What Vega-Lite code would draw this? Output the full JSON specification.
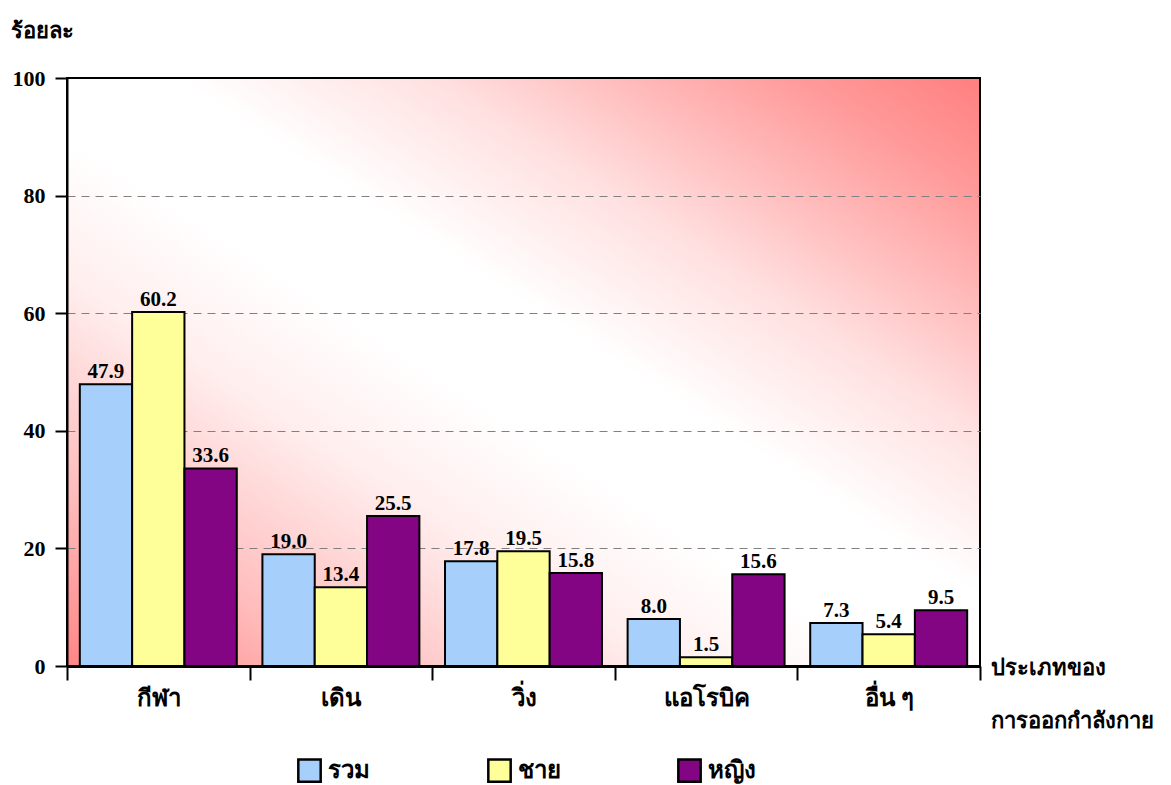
{
  "$schema": "https://vega.github.io/schema/vega-lite/v6.json",
  "width": 913,
  "height": 588,
  "autosize": {"type": "none"},
  "padding": {"left": 67, "top": 78, "right": 191, "bottom": 119},
  "background": "white",
  "config": {
    "font": "Liberation Serif",
    "view": {
      "stroke": "black",
      "strokeWidth": 2,
      "fill": {
        "gradient": "linear",
        "x1": 0, "y1": 1, "x2": 1, "y2": 0,
        "stops": [
          {"offset": 0, "color": "#ff8585"},
          {"offset": 0.15, "color": "#ffbcbc"},
          {"offset": 0.33, "color": "#ffeeee"},
          {"offset": 0.45, "color": "#ffffff"},
          {"offset": 0.56, "color": "#ffffff"},
          {"offset": 0.7, "color": "#ffe0e0"},
          {"offset": 0.8, "color": "#ffbcbc"},
          {"offset": 0.9, "color": "#ff9a9a"},
          {"offset": 1, "color": "#ff7f7f"}
        ]
      }
    }
  },
  "data": {
    "values": [
      {"category": "กีฬา", "group": "รวม", "value": 47.9},
      {"category": "กีฬา", "group": "ชาย", "value": 60.2},
      {"category": "กีฬา", "group": "หญิง", "value": 33.6},
      {"category": "เดิน", "group": "รวม", "value": 19.0},
      {"category": "เดิน", "group": "ชาย", "value": 13.4},
      {"category": "เดิน", "group": "หญิง", "value": 25.5},
      {"category": "วิ่ง", "group": "รวม", "value": 17.8},
      {"category": "วิ่ง", "group": "ชาย", "value": 19.5},
      {"category": "วิ่ง", "group": "หญิง", "value": 15.8},
      {"category": "แอโรบิค", "group": "รวม", "value": 8.0},
      {"category": "แอโรบิค", "group": "ชาย", "value": 1.5},
      {"category": "แอโรบิค", "group": "หญิง", "value": 15.6},
      {"category": "อื่น ๆ", "group": "รวม", "value": 7.3},
      {"category": "อื่น ๆ", "group": "ชาย", "value": 5.4},
      {"category": "อื่น ๆ", "group": "หญิง", "value": 9.5}
    ]
  },
  "encoding": {
    "x": {
      "field": "category",
      "type": "nominal",
      "sort": null,
      "scale": {"paddingInner": 0, "paddingOuter": 0},
      "axis": {
        "title": ["ประเภทของ", "การออกกำลังกาย"],
        "titleX": 923,
        "titleY": 8,
        "titleAlign": "left",
        "titleBaseline": "alphabetic",
        "titleFontSize": 22,
        "titleFontWeight": "bold",
        "titleLineHeight": 53,
        "titleColor": "black",
        "labelAngle": 0,
        "labelFontSize": 24,
        "labelFontWeight": "bold",
        "labelColor": "black",
        "labelPadding": 6,
        "tickBand": "extent",
        "tickColor": "black",
        "tickWidth": 2,
        "tickSize": 14,
        "domainColor": "black",
        "domainWidth": 3
      }
    },
    "xOffset": {
      "field": "group",
      "type": "nominal",
      "sort": ["รวม", "ชาย", "หญิง"],
      "scale": {"paddingInner": 0, "paddingOuter": 0.245}
    },
    "y": {
      "field": "value",
      "type": "quantitative",
      "scale": {"domain": [0, 100], "nice": false},
      "axis": {
        "title": "ร้อยละ",
        "titleAngle": 0,
        "titleX": -57,
        "titleY": -48,
        "titleAlign": "left",
        "titleBaseline": "middle",
        "titleFontSize": 22,
        "titleFontWeight": "bold",
        "titleColor": "black",
        "values": [0, 20, 40, 60, 80, 100],
        "labelFontSize": 22,
        "labelFontWeight": "bold",
        "labelColor": "black",
        "labelPadding": 10,
        "tickColor": "black",
        "tickWidth": 2,
        "tickSize": 12,
        "domainColor": "black",
        "domainWidth": 2,
        "grid": true,
        "gridColor": "#808080",
        "gridDash": [8, 6],
        "gridWidth": 1,
        "gridOpacity": {"condition": {"test": "datum.value === 0 || datum.value === 100", "value": 0}, "value": 1}
      }
    }
  },
  "layer": [
    {
      "mark": {"type": "bar", "stroke": "black", "strokeWidth": 2},
      "encoding": {
        "color": {
          "field": "group",
          "type": "nominal",
          "scale": {"domain": ["รวม", "ชาย", "หญิง"], "range": ["#a6d0fb", "#ffff99", "#830583"]},
          "legend": {
            "title": null,
            "orient": "none",
            "direction": "horizontal",
            "legendX": 230,
            "legendY": 680,
            "gridAlign": "all",
            "columnPadding": 107,
            "symbolType": "square",
            "symbolSize": 500,
            "symbolStrokeColor": "black",
            "symbolStrokeWidth": 2.5,
            "symbolOpacity": 1,
            "labelFontSize": 24,
            "labelFontWeight": "bold",
            "labelColor": "black",
            "labelOffset": 6
          }
        }
      }
    },
    {
      "mark": {"type": "text", "baseline": "bottom", "dy": -2, "fontSize": 21, "fontWeight": "bold", "color": "black"},
      "encoding": {
        "text": {"field": "value", "type": "quantitative", "format": ".1f"}
      }
    }
  ]
}
